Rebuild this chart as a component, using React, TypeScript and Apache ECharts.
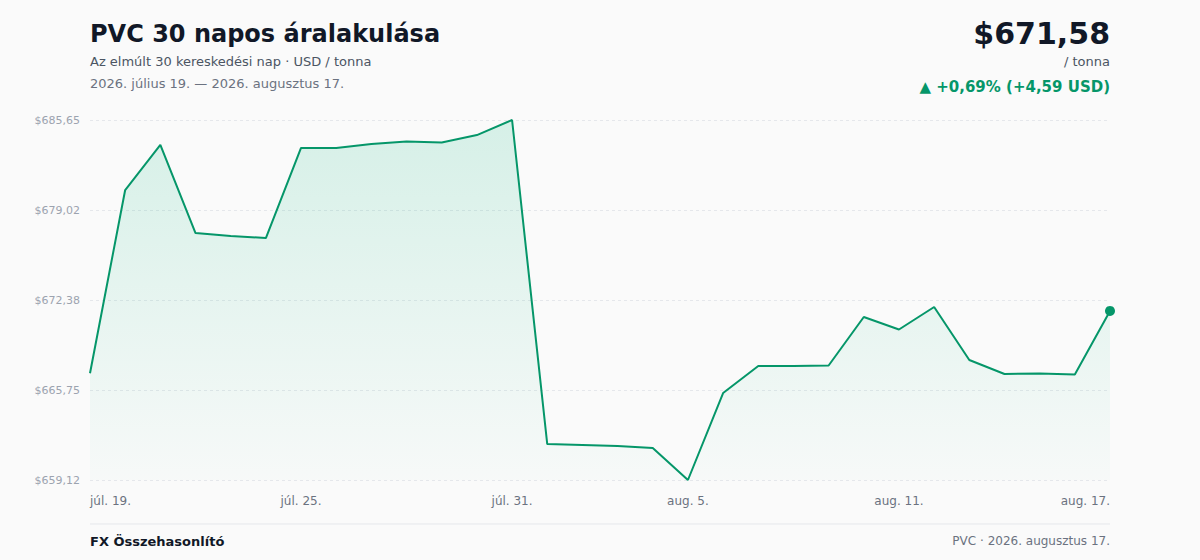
import React, { useEffect, useRef } from "react";
import * as echarts from "echarts";

const categories: string[] = [
  "júl. 19.", "júl. 20.", "júl. 21.", "júl. 22.", "júl. 23.", "júl. 24.", "júl. 25.",
  "júl. 26.", "júl. 27.", "júl. 28.", "júl. 29.", "júl. 30.", "júl. 31.",
  "aug. 1.", "aug. 2.", "aug. 3.", "aug. 4.", "aug. 5.", "aug. 6.", "aug. 7.",
  "aug. 8.", "aug. 9.", "aug. 10.", "aug. 11.", "aug. 12.", "aug. 13.",
  "aug. 14.", "aug. 15.", "aug. 16.", "aug. 17.",
];

const prices: number[] = [
  666.99, 680.49, 683.81, 677.32, 677.1, 676.95, 683.59, 683.59, 683.88, 684.07,
  683.99, 684.54, 685.65, 661.77, 661.7, 661.63, 661.48, 659.12, 665.53, 667.52,
  667.52, 667.56, 671.13, 670.21, 671.87, 667.96, 666.93, 666.97, 666.89, 671.58,
];

const shownLabelIndices: number[] = [0, 6, 12, 17, 23, 29];

const yMin = 659.12;
const yMax = 685.65;
const ySteps = 4;

const titleText = "PVC 30 napos áralakulása";
const subtitleText = "Az elmúlt 30 kereskedési nap · USD / tonna";
const rangeText = "2026. július 19. — 2026. augusztus 17.";
const priceText = "$671,58";
const unitText = "/ tonna";
const changeText = "▲ +0,69% (+4,59 USD)";
const footerLeft = "FX Összehasonlító";
const footerRight = "PVC · 2026. augusztus 17.";

const FONT = "'DejaVu Sans', sans-serif";
const GREEN = "#059669";

export default function App() {
  const ref = useRef<HTMLDivElement>(null);

  useEffect(() => {
    document.body.style.margin = "0";
    if (!ref.current) return;
    const chart = echarts.init(ref.current, undefined, { renderer: "svg" });
    const last = prices.length - 1;
    const fmt = (v: number) => "$" + v.toFixed(2).replace(".", ",");

    chart.setOption({
      animation: false,
      backgroundColor: "#fafafa",
      textStyle: { fontFamily: FONT },
      grid: { left: 90, right: 90, top: 120, bottom: 80, containLabel: false },
      xAxis: {
        type: "category",
        data: categories,
        boundaryGap: false,
        axisLine: { show: false },
        axisTick: { show: false },
        splitLine: { show: false },
        axisLabel: {
          interval: (idx: number) => shownLabelIndices.includes(idx),
          color: "#6b7280",
          fontSize: 12,
          fontFamily: FONT,
          margin: 15,
          alignMinLabel: "left",
          alignMaxLabel: "right",
        },
      },
      yAxis: {
        type: "value",
        min: yMin,
        max: yMax,
        interval: (yMax - yMin) / ySteps,
        axisLine: { show: false },
        axisTick: { show: false },
        axisLabel: {
          color: "#9ca3af",
          fontSize: 11,
          fontFamily: FONT,
          margin: 10,
          formatter: (v: number) => fmt(v),
        },
        splitLine: {
          show: true,
          lineStyle: { color: "#e5e7eb", type: [3, 3], width: 1 },
        },
      },
      series: [
        {
          type: "line",
          data: prices,
          smooth: false,
          symbol: "circle",
          showSymbol: true,
          showAllSymbol: true,
          symbolSize: (_v: any, p: any) => (p.dataIndex === last ? 10 : 0),
          itemStyle: { color: GREEN, borderWidth: 0 },
          lineStyle: { color: GREEN, width: 2 },
          areaStyle: {
            origin: "start",
            color: new echarts.graphic.LinearGradient(0, 0, 0, 1, [
              { offset: 0, color: "rgba(16,185,129,0.22)" },
              { offset: 1, color: "rgba(16,185,129,0.02)" },
            ]),
          },
        },
      ],
      graphic: [
        {
          type: "text",
          style: {
            x: 90, y: 34, text: titleText, fill: "#111827",
            font: `bold 24px ${FONT}`, textAlign: "left", textVerticalAlign: "middle",
          },
        },
        {
          type: "text",
          style: {
            x: 90, y: 61, text: subtitleText, fill: "#4b5563",
            font: `13px ${FONT}`, textAlign: "left", textVerticalAlign: "middle",
          },
        },
        {
          type: "text",
          style: {
            x: 90, y: 83, text: rangeText, fill: "#6b7280",
            font: `13px ${FONT}`, textAlign: "left", textVerticalAlign: "middle",
          },
        },
        {
          type: "text",
          style: {
            x: 1110, y: 33, text: priceText, fill: "#111827",
            font: `bold 30px ${FONT}`, textAlign: "right", textVerticalAlign: "middle",
          },
        },
        {
          type: "text",
          style: {
            x: 1110, y: 61, text: unitText, fill: "#4b5563",
            font: `13px ${FONT}`, textAlign: "right", textVerticalAlign: "middle",
          },
        },
        {
          type: "text",
          style: {
            x: 1110, y: 87, text: changeText, fill: GREEN,
            font: `bold 15px ${FONT}`, textAlign: "right", textVerticalAlign: "middle",
          },
        },
        {
          type: "line",
          shape: { x1: 90, y1: 524, x2: 1110, y2: 524 },
          style: { stroke: "#e5e7eb", lineWidth: 1 },
        },
        {
          type: "text",
          style: {
            x: 90, y: 541, text: footerLeft, fill: "#111827",
            font: `bold 13px ${FONT}`, textAlign: "left", textVerticalAlign: "middle",
          },
        },
        {
          type: "text",
          style: {
            x: 1110, y: 541, text: footerRight, fill: "#6b7280",
            font: `12px ${FONT}`, textAlign: "right", textVerticalAlign: "middle",
          },
        },
      ],
    });

    return () => chart.dispose();
  }, []);

  return <div ref={ref} style={{ width: 1200, height: 560 }} />;
}
